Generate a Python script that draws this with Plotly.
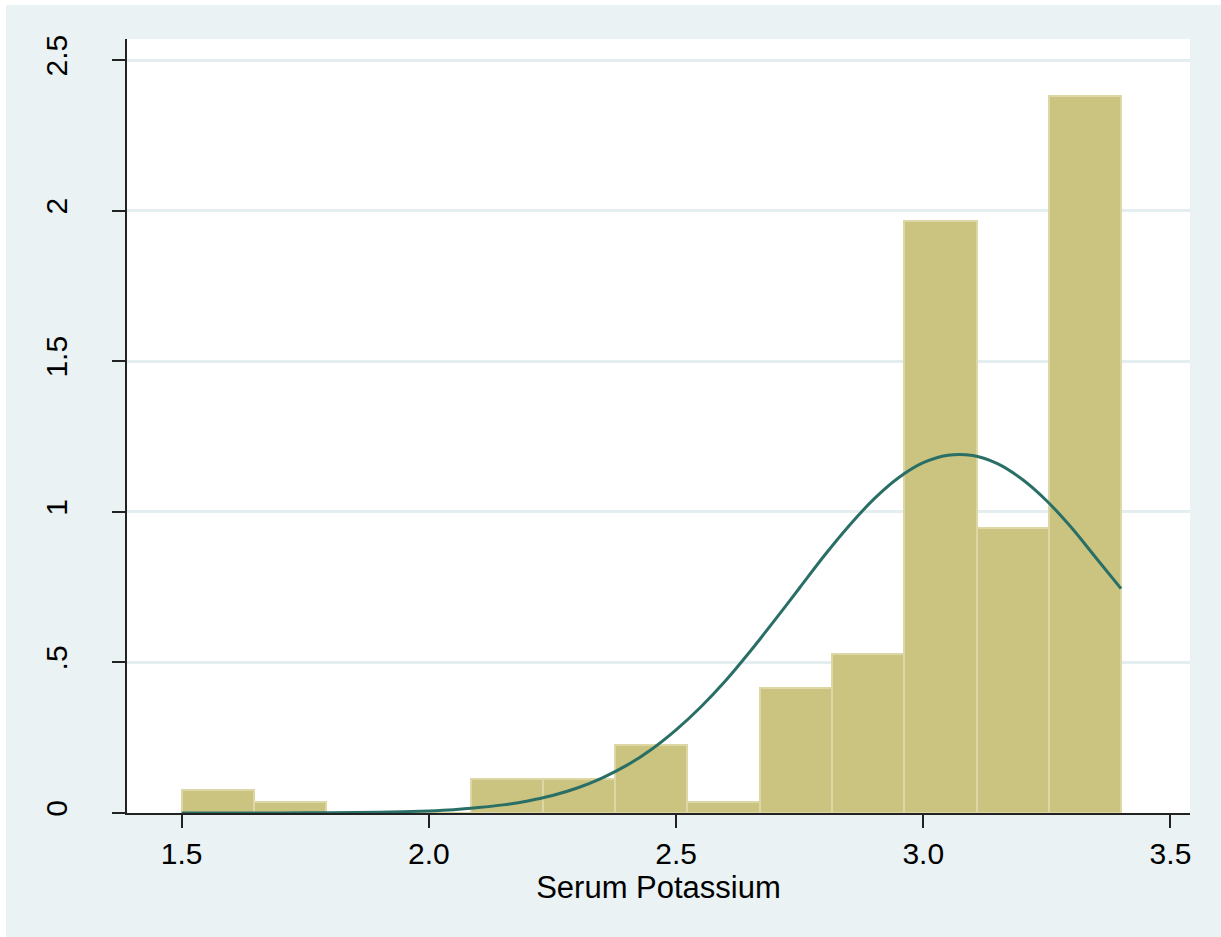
import numpy as np
import plotly.graph_objects as go

# Histogram of serum potassium (density scale), 13 equal-width bins from 1.5 to 3.4
bin_lo = 1.5
bin_hi = 3.4
density = [0.076, 0.038, 0.0, 0.0, 0.113, 0.113, 0.227, 0.038,
           0.416, 0.529, 1.966, 0.945, 2.382]

# Overlaid normal density curve
curve_x = [1.5, 1.6, 1.7, 1.8, 1.9, 2.0, 2.05, 2.1, 2.15, 2.2, 2.25, 2.3,
           2.35, 2.4, 2.45, 2.5, 2.55, 2.6, 2.65, 2.7, 2.75, 2.8, 2.85,
           2.9, 2.95, 3.0, 3.05, 3.1, 3.15, 3.2, 3.25, 3.3, 3.35, 3.4]
curve_y = [0.000, 0.0001, 0.0003, 0.0009, 0.0026, 0.007, 0.011, 0.018,
           0.027, 0.040, 0.058, 0.083, 0.116, 0.158, 0.211, 0.276, 0.352,
           0.439, 0.537, 0.641, 0.748, 0.855, 0.954, 1.042, 1.113, 1.163,
           1.188, 1.187, 1.160, 1.108, 1.036, 0.947, 0.846, 0.745]

x_ticks = [1.5, 2.0, 2.5, 3.0, 3.5]
x_ticktext = ["1.5", "2.0", "2.5", "3.0", "3.5"]
y_ticks = [0, 0.5, 1, 1.5, 2, 2.5]
y_ticktext = ["0", ".5", "1", "1.5", "2", "2.5"]
x_title = "Serum Potassium"

n_bins = len(density)
edges = np.linspace(bin_lo, bin_hi, n_bins + 1)
centers = (edges[:-1] + edges[1:]) / 2
width = edges[1] - edges[0]

FONT = "Liberation Sans, Arial, Helvetica, sans-serif"
REGION = "#EAF2F3"
GRID = "#E4EDEF"

fig = go.Figure()
fig.add_trace(go.Bar(
    x=centers, y=density, width=[width] * n_bins,
    marker=dict(color="#CBC380", line=dict(color="#DDD7A6", width=2)),
    showlegend=False, hoverinfo="skip",
))
fig.add_trace(go.Scatter(
    x=curve_x, y=curve_y, mode="lines",
    line=dict(color="#2A6F66", width=3, shape="spline", smoothing=0.8),
    showlegend=False, hoverinfo="skip",
))

L, R, T, B = 127, 31, 39, 124
W, H = 1221, 937
pw, ph = W - L - R, H - T - B

shapes = [
    # graph region (light bluish gray) with thin white edge at top/left
    dict(type="rect", xref="paper", yref="paper", layer="below",
         x0=(6 - L) / pw, x1=1.1, y0=-0.3, y1=(H - B - 5) / ph,
         fillcolor=REGION, line=dict(width=0)),
    # plot region
    dict(type="rect", xref="paper", yref="paper", layer="below",
         x0=0, x1=1, y0=0, y1=1, fillcolor="white", line=dict(width=0)),
]

fig.update_layout(
    width=W, height=H,
    margin=dict(l=L, r=R, t=T, b=B, pad=0),
    paper_bgcolor="white", plot_bgcolor="white",
    font=dict(family=FONT, color="black"),
    bargap=0, shapes=shapes,
    xaxis=dict(
        range=[1.3894, 3.5395], tickvals=x_ticks, ticktext=x_ticktext,
        ticks="outside", ticklen=13, tickwidth=1.5, tickcolor="#222",
        showline=True, linecolor="#222", linewidth=1.5,
        showgrid=False, zeroline=False,
        tickfont=dict(size=30, family=FONT, color="black"),
        ticklabelstandoff=0,
        title=dict(text=x_title, font=dict(size=31, family=FONT, color="black"),
                   standoff=0),
    ),
    yaxis=dict(
        range=[0, 2.570], tickvals=y_ticks, ticktext=y_ticktext,
        ticks="outside", ticklen=13, tickwidth=1.5, tickcolor="#222",
        showline=True, linecolor="#222", linewidth=1.5,
        showgrid=True, gridcolor=GRID, gridwidth=3,
        zeroline=False, tickangle=-90,
        tickfont=dict(size=30, family=FONT, color="black"),
        ticklabelstandoff=33,
    ),
)

fig.write_html("out.html")
